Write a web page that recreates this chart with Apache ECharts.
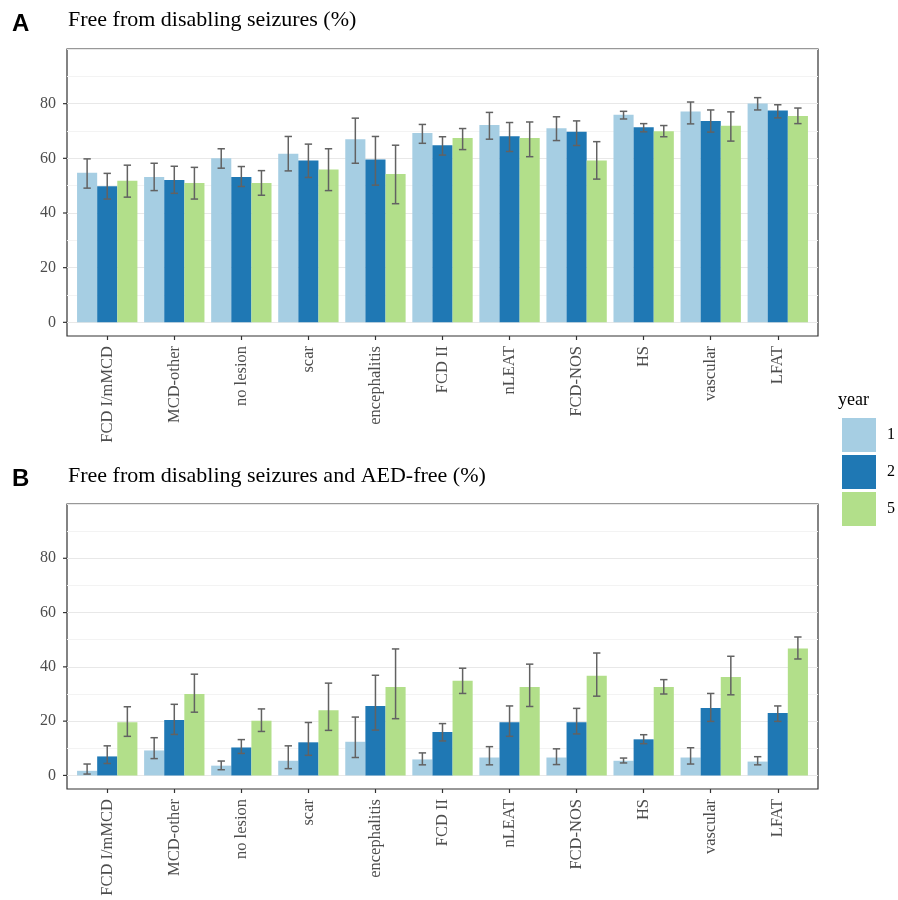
<!DOCTYPE html>
<html>
<head>
<meta charset="utf-8">
<script src="https://cdn.jsdelivr.net/npm/echarts@6/dist/echarts.min.js"></script>
<style>
  html, body { margin: 0; padding: 0; background: #fff; }
  #chart { width: 898px; height: 900px; }
</style>
</head>
<body>
<div id="chart"></div>
<script>
var categories = ['FCD I/mMCD', 'MCD-other', 'no lesion', 'scar', 'encephalitis', 'FCD II', 'nLEAT', 'FCD-NOS', 'HS', 'vascular', 'LFAT'];
var years = ['1', '2', '5'];
var yTicks = [0, 20, 40, 60, 80];

// panel A: free from disabling seizures
var seizA1   = [54.7, 53.2, 60.0, 61.7, 67.0, 69.3, 72.2, 71.0, 75.9, 77.1, 80.1];
var seizA1Hi = [59.8, 58.2, 63.5, 68.0, 74.7, 72.4, 76.8, 75.2, 77.2, 80.6, 82.2];
var seizA1Lo = [49.1, 48.2, 56.4, 55.4, 58.2, 65.5, 67.0, 66.5, 74.4, 72.6, 77.7];
var seizA2   = [49.8, 52.1, 53.2, 59.2, 59.6, 64.8, 68.1, 69.7, 71.4, 73.7, 77.5];
var seizA2Hi = [54.5, 57.1, 57.0, 65.2, 68.0, 67.9, 73.1, 73.7, 72.7, 77.7, 79.6];
var seizA2Lo = [45.1, 47.2, 49.7, 53.0, 50.2, 61.2, 62.5, 64.7, 69.7, 69.6, 74.8];
var seizA5   = [51.8, 51.0, 51.0, 55.9, 54.3, 67.4, 67.4, 59.2, 69.9, 71.9, 75.5];
var seizA5Hi = [57.5, 56.7, 55.5, 63.5, 64.8, 70.9, 73.3, 66.1, 72.0, 77.0, 78.4];
var seizA5Lo = [45.8, 45.1, 46.5, 48.2, 43.4, 63.2, 60.6, 52.4, 67.9, 66.3, 72.7];

// panel B: free from disabling seizures and AED-free
var aedB1   = [1.7, 9.2, 3.6, 5.4, 12.4, 5.9, 6.6, 6.6, 5.4, 6.6, 5.1];
var aedB1Hi = [4.2, 13.9, 5.3, 10.9, 21.5, 8.3, 10.6, 9.8, 6.4, 10.2, 6.9];
var aedB1Lo = [0.5, 6.2, 2.1, 2.5, 6.6, 3.9, 3.9, 4.0, 4.6, 4.2, 3.9];
var aedB2   = [7.0, 20.4, 10.3, 12.2, 25.6, 16.0, 19.6, 19.6, 13.3, 24.8, 23.0];
var aedB2Hi = [10.9, 26.2, 13.2, 19.5, 36.9, 19.1, 25.6, 24.7, 15.0, 30.2, 25.6];
var aedB2Lo = [4.4, 15.1, 8.1, 7.4, 16.7, 12.7, 14.4, 15.3, 11.7, 19.9, 19.9];
var aedB5   = [19.6, 30.0, 20.1, 24.0, 32.6, 34.9, 32.6, 36.7, 32.6, 36.3, 46.8];
var aedB5Hi = [25.3, 37.3, 24.5, 34.0, 46.6, 39.5, 41.0, 45.1, 35.3, 43.9, 51.0];
var aedB5Lo = [14.4, 23.3, 16.2, 16.6, 20.9, 30.2, 25.4, 29.2, 30.0, 29.7, 42.9];

var colors = ['#a6cee3', '#1f78b4', '#b2df8a'];
var serif = '"Liberation Serif", "DejaVu Serif", serif';
var sans = '"Liberation Sans", Arial, sans-serif';

// panel boxes (px)
var panelLeft = 67, panelRight = 80;
var panels = [
  { top: 49, height: 287, vals: [seizA1, seizA2, seizA5], hi: [seizA1Hi, seizA2Hi, seizA5Hi], lo: [seizA1Lo, seizA2Lo, seizA5Lo] },
  { top: 504, height: 285, vals: [aedB1, aedB2, aedB5], hi: [aedB1Hi, aedB2Hi, aedB5Hi], lo: [aedB1Lo, aedB2Lo, aedB5Lo] }
];
// ggplot adds 0.6 of a band on each side of the discrete axis
var bandPx = (898 - panelLeft - panelRight) / (categories.length + 0.2);
var inset = bandPx * 0.1;

var grids = [], xAxes = [], yAxes = [], series = [];

panels.forEach(function (p, pi) {
  // outer grid: border + gridlines + y labels
  grids.push({ left: panelLeft, right: panelRight, top: p.top, height: p.height, show: true, borderColor: '#333', borderWidth: 1.2, backgroundColor: '#fff' });
  // inner grid: bars
  grids.push({ left: panelLeft + inset, right: panelRight + inset, top: p.top, height: p.height });
  var g0 = pi * 2, g1 = pi * 2 + 1;

  xAxes.push({ gridIndex: g0, type: 'value', min: 0, max: 1, show: false });
  xAxes.push({
    gridIndex: g1, type: 'category', data: categories,
    axisLine: { show: false, onZero: false },
    axisTick: { show: true, alignWithLabel: true, length: 4, lineStyle: { color: '#333', width: 1.2 } },
    axisLabel: { rotate: 90, margin: 10, fontFamily: serif, fontSize: 16.5, color: '#4d4d4d' }
  });

  yAxes.push({
    gridIndex: g0, type: 'value', min: -5, max: 100, interval: 5,
    axisLine: { show: false }, axisTick: { show: false },
    axisLabel: {
      margin: 11, fontFamily: serif, fontSize: 16, color: '#4d4d4d',
      formatter: function (v) { return yTicks.indexOf(v) >= 0 ? String(v) : ''; }
    },
    splitLine: { show: true, lineStyle: { color: ['rgba(0,0,0,0)', '#e8e8e8', 'rgba(0,0,0,0)', '#f3f3f3'], width: 1.1 } }
  });
  yAxes.push({ gridIndex: g1, type: 'value', min: -5, max: 100, show: false });

  // small y ticks just outside the panel border (0.6 band left of the first category)
  series.push({
    type: 'custom', xAxisIndex: g1, yAxisIndex: g1, clip: false, silent: true, z: 6,
    data: yTicks.map(function (v) { return [0, v]; }),
    renderItem: function (params, api) {
      var pt = api.coord([api.value(0), api.value(1)]);
      var band = api.size([1, 0])[0];
      var edge = pt[0] - band * 0.6;
      return { type: 'line', shape: { x1: edge - 4, y1: pt[1], x2: edge, y2: pt[1] }, style: { stroke: '#333', lineWidth: 1.2 } };
    }
  });

  years.forEach(function (yr, yi) {
    series.push({
      name: yr, type: 'bar', xAxisIndex: g1, yAxisIndex: g1,
      data: p.vals[yi], barGap: '0%', barCategoryGap: '10%',
      itemStyle: { color: colors[yi] },
      silent: true
    });
  });

  years.forEach(function (yr, yi) {
    var rows = p.vals[yi].map(function (v, i) { return [i, p.hi[yi][i], p.lo[yi][i]]; });
    series.push({
      type: 'custom', xAxisIndex: g1, yAxisIndex: g1, z: 5, silent: true,
      data: rows,
      renderItem: function (params, api) {
        var top = api.coord([api.value(0), api.value(1)]);
        var bot = api.coord([api.value(0), api.value(2)]);
        var band = api.size([1, 0])[0];
        var x = top[0] + (yi - 1) * band * 0.3;
        var cap = band * 0.055;
        var st = { stroke: '#626262', lineWidth: 1.5 };
        return {
          type: 'group',
          children: [
            { type: 'line', shape: { x1: x, y1: top[1], x2: x, y2: bot[1] }, style: st },
            { type: 'line', shape: { x1: x - cap, y1: top[1], x2: x + cap, y2: top[1] }, style: st },
            { type: 'line', shape: { x1: x - cap, y1: bot[1], x2: x + cap, y2: bot[1] }, style: st }
          ]
        };
      }
    });
  });
});

var chart = echarts.init(document.getElementById('chart'));
chart.setOption({
  animation: false,
  backgroundColor: '#fff',
  title: [
    { text: 'A', left: 7, top: 7, textStyle: { fontFamily: sans, fontSize: 24, fontWeight: 'bold', color: '#000' } },
    { text: 'Free from disabling seizures (%)', left: 63, top: 4, textStyle: { fontFamily: serif, fontSize: 22, fontWeight: 'normal', color: '#000' } },
    { text: 'B', left: 7, top: 462, textStyle: { fontFamily: sans, fontSize: 24, fontWeight: 'bold', color: '#000' } },
    { text: 'Free from disabling seizures and AED-free (%)', left: 63, top: 460, textStyle: { fontFamily: serif, fontSize: 22, fontWeight: 'normal', color: '#000' } },
    { text: 'year', left: 833, top: 386, textStyle: { fontFamily: serif, fontSize: 18, fontWeight: 'normal', color: '#000' } }
  ],
  legend: {
    data: years, orient: 'vertical', left: 842, top: 418, padding: 0,
    icon: 'rect', itemWidth: 34, itemHeight: 34, itemGap: 3,
    textStyle: { fontFamily: serif, fontSize: 16, color: '#000', padding: [0, 0, 0, 6] }
  },
  grid: grids,
  xAxis: xAxes,
  yAxis: yAxes,
  series: series
});
</script>
</body>
</html>
